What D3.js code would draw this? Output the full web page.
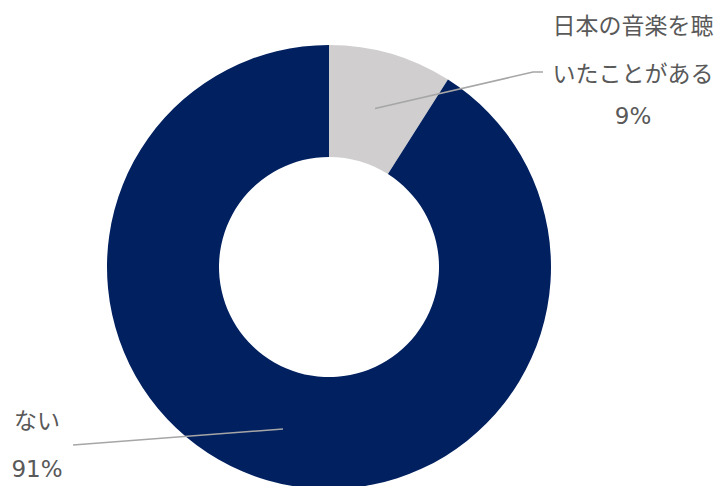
<!DOCTYPE html>
<html><head><meta charset="utf-8">
<script src="https://cdn.jsdelivr.net/npm/d3@7"></script>
<style>body{margin:0;background:#fff;}svg{display:block;}</style>
</head><body>
<svg id="c" width="718" height="486"></svg>
<script>
const categories = ["日本の音楽を聴いたことがある", "ない"];
const values = [9, 91];
const labelLines = [["日本の音楽を聴", "いたことがある", "9%"], ["ない", "91%"]];
const colors = ["#d0cece", "#002060"];

const svg = d3.select("#c");
const cx = 329, cy = 267, R = 222, r = 110;
const g = svg.append("g").attr("transform", `translate(${cx},${cy})`);
const pie = d3.pie().sort(null).value(d => d)(values);
const arc = d3.arc().innerRadius(r).outerRadius(R);
g.selectAll("path").data(pie).enter().append("path")
  .attr("d", arc).attr("fill", (d, i) => colors[i]);

// leader lines
const mid = d3.arc().innerRadius(165).outerRadius(165);
const leaders = [
  {start: mid.centroid(pie[0]), pts: [[533 - cx, 72 - cy], [543 - cx, 72 - cy]]},
  {start: [283 - cx, 429 - cy], pts: [[73 - cx, 445 - cy]]}
];
leaders.forEach(l => {
  g.append("path")
    .attr("d", d3.line()([l.start, ...l.pts]))
    .attr("fill", "none").attr("stroke", "#a6a6a6").attr("stroke-width", 1.6);
});

const font = "'DejaVu Sans', 'Noto Sans CJK JP', sans-serif";
const labelPos = [{x: 633, ys: [34, 82, 124]}, {x: 37, ys: [429, 477]}];
labelLines.forEach((lines, i) => {
  const t = svg.append("text")
    .attr("font-family", font).attr("font-size", 23).attr("fill", "#595959")
    .attr("text-anchor", "middle");
  lines.forEach((s, j) => {
    t.append("tspan").attr("x", labelPos[i].x).attr("y", labelPos[i].ys[j]).text(s);
  });
});
</script>
</body></html>
